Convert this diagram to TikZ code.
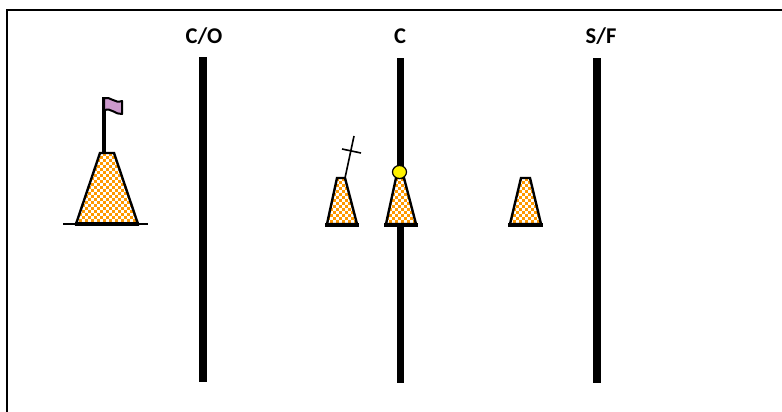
\documentclass[tikz,border=0pt]{standalone}
\usepackage{fontspec}
\setmainfont{Carlito}
\tikzset{
  x=1pt,y=-1pt,
  frameline/.style={line width=2pt,black},
  polebar/.style={fill=black},
  conelabel/.style={font=\fontsize{22.5}{24}\selectfont\bfseries,inner sep=0pt,anchor=center},
  coneoutline/.style={draw=black,line width=2.4pt,line join=miter},
  conebase/.style={line width=3.2pt,black},
  thinline/.style={line width=1.6pt,black},
}
\definecolor{coneorange}{RGB}{255,153,0}
\definecolor{flagpurple}{RGB}{204,153,204}
\newcommand{\conedots}[4]{%
  \fill[coneorange] (#1,#2) rectangle (#3,#4);
  \foreach \i in {0,...,11}{
    \foreach \j in {0,...,25}{
      \pgfmathsetmacro{\px}{#1+\i*6+mod(\j,2)*3}
      \pgfmathsetmacro{\py}{#2+\j*3}
      \fill[white] (\px,\py) rectangle ++(2.6,2.5);
    }
  }
}
\newcommand{\cone}[5]{% topL topR botL botR topY
  \begin{scope}
    \clip (#1,#5) -- (#2,#5) -- (#4,224) -- (#3,224) -- cycle;
    \conedots{#3}{#5}{#4}{224}
  \end{scope}
  \draw[coneoutline] (#1,#5) -- (#2,#5) -- (#4,224) -- (#3,224) -- cycle;
}
\begin{document}
\begin{tikzpicture}
\useasboundingbox (0,0) rectangle (782,412);
\fill[white] (0,0) rectangle (782,412);
\draw[frameline] (7,412) -- (7,10) -- (782,10);
% vertical bars
\fill[polebar] (199,57) rectangle (207,382);
\fill[polebar] (396.5,58) rectangle (404,383);
\fill[polebar] (593,58) rectangle (600.5,383);
% labels
\node[conelabel] (co) at (204,36) {C/O};
\node[conelabel] (c) at (400,36) {C};
\node[conelabel] (sf) at (601,36) {S/F};
% big cone
\draw[thinline] (63,224) -- (148,224);
\fill[black] (102,97) rectangle (106,153);
\cone{100}{114}{76}{138}{153}
\draw[conebase] (75,224) -- (139,224);
% flag
\draw[line width=2pt,fill=flagpurple,line join=round] (104,98)
  .. controls (110,96) and (115,104) .. (122,101)
  -- (122,114)
  .. controls (116,115) and (110,107) .. (104,110) -- cycle;
% cone with cross
\draw[thinline] (345,178) -- (354,136);
\draw[thinline] (342,149) -- (361,153);
\cone{337}{345}{327}{357}{178}
\draw[conebase] (325,225) -- (359,225);
% cone on bar
\cone{396}{404}{386}{416}{178}
\draw[conebase] (384,225) -- (418,225);
\draw[line width=1.2pt,fill=yellow] (399.5,172) ellipse (7 and 6.5);
% right cone
\cone{521}{530}{510}{541}{178}
\draw[conebase] (508,225) -- (543,225);
\end{tikzpicture}
\end{document}
